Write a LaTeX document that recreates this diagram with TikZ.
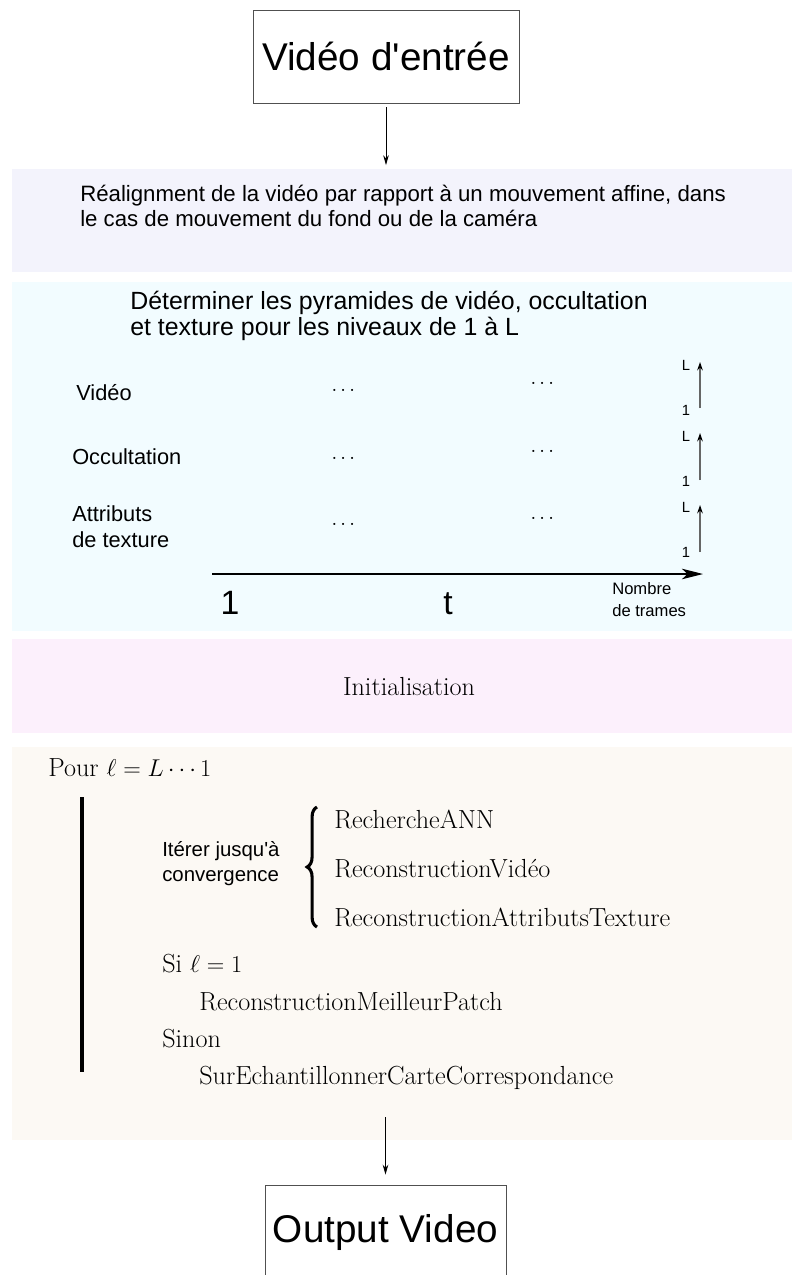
\documentclass[tikz,border=0pt]{standalone}
\usepackage{amsmath}
\usepackage{fontspec}
\usepackage{tikz}
\usetikzlibrary{arrows.meta}
\usetikzlibrary{decorations.pathreplacing}
\newfontfamily\arialfont{Liberation Sans}
\definecolor{boxgray}{RGB}{80,80,80}
\definecolor{bandA}{RGB}{243,243,252}
\definecolor{bandB}{RGB}{242,252,255}
\definecolor{bandC}{RGB}{252,240,252}
\definecolor{bandD}{RGB}{252,249,244}
\newcommand{\fs}[2]{\fontsize{#1}{#2}\selectfont}

\begin{document}
\begin{tikzpicture}[x=0.025cm,y=-0.025cm,>={Stealth[length=7pt,width=4pt]}]
      \tikzstyle{every node}=[inner sep=0pt]
      \tikzstyle{io}=[draw=boxgray,line width=0.6pt,minimum height=2.325cm,font=\arialfont\fs{27.5}{32}]
      \tikzstyle{band}=[anchor=north west,minimum width=19.5cm]
      \tikzstyle{sans}=[font=\arialfont,align=left]
      \tikzstyle{cmr}=[anchor=base west,font=\fs{18.6}{22}]
      \tikzstyle{lvl}=[font=\arialfont\fs{10.5}{12},anchor=base]
      \tikzstyle{dots}=[font=\fs{14}{16},anchor=base]
      \tikzstyle{pyr}=[draw=black!60,line width=0.9pt,-{Stealth[length=6pt,width=4pt,color=black]}]
      \useasboundingbox (0,0) rectangle (792,1275);
      % 
      \node [band,fill=bandA,minimum height=2.575cm] (align) at (12,169) {};
      \node [band,fill=bandB,minimum height=8.725cm] (pyramid) at (12,282) {};
      \node [band,fill=bandC,minimum height=2.35cm] (init) at (12,639) {};
      \node [band,fill=bandD,minimum height=9.825cm] (loop) at (12,747) {};
      % 
      \node [io,minimum width=6.65cm] (in) at (386,56.5) {Vidéo d'entrée};
      \node [io,minimum width=6.025cm] (out) at (385.5,1232) {Output Video};
      % 
      \node [sans,anchor=west,font=\arialfont\fs{15.8}{17.5}] (aligntext) at (80,206)
            {Réalignment de la vidéo par rapport à un mouvement affine, dans\\le cas de mouvement du fond ou de la caméra};
      % 
      \node [sans,anchor=west,font=\arialfont\fs{17.7}{18.5}] (pyrtitle) at (130,316)
            {Déterminer les pyramides de vidéo, occultation\\et texture pour les niveaux de 1 à L};
      \node [sans,anchor=base west,font=\arialfont\fs{15.5}{18.5}] (rowv) at (76,400) {Vidéo};
      \node [sans,anchor=base west,font=\arialfont\fs{15.5}{18.5}] (rowo) at (72,464) {Occultation};
      \node [sans,anchor=west,font=\arialfont\fs{15.5}{18.5}] (rowt) at (72,527) {Attributs\\de texture};
      \node [dots] (dv1) at (345,395) {$\cdots$};
      \node [dots] (dv2) at (544,388) {$\cdots$};
      \node [dots] (do1) at (345,463) {$\cdots$};
      \node [dots] (do2) at (544,456) {$\cdots$};
      \node [dots] (dt1) at (345,529) {$\cdots$};
      \node [dots] (dt2) at (544,523) {$\cdots$};
      \node [lvl] (Lv) at (686,370) {L};
      \node [lvl] (Iv) at (686,415) {1};
      \node [lvl] (Lo) at (686,441) {L};
      \node [lvl] (Io) at (686,486) {1};
      \node [lvl] (Lt) at (686,512) {L};
      \node [lvl] (It) at (686,557) {1};
      \coordinate (v0) at (700,408);  \coordinate (v1) at (700,362);
      \coordinate (o0) at (700,480);  \coordinate (o1) at (700,433);
      \coordinate (t0) at (700,552);  \coordinate (t1) at (700,505);
      \coordinate (ax0) at (212,574); \coordinate (ax1) at (703,574);
      \node [anchor=base,font=\arialfont\fs{24}{28}] (first) at (230,614) {1};
      \node [anchor=base,font=\arialfont\fs{24}{28}] (tt) at (448,614) {t};
      \node [sans,anchor=west,font=\arialfont\fs{11.8}{15.6}] (nbtr) at (612,600) {Nombre\\de trames};
      % 
      \node [cmr,anchor=base] (inittext) at (409,695) {Initialisation};
      % 
      \node [cmr] (pour) at (48,776) {Pour $\ell = L \cdots 1$};
      \coordinate (bartop) at (82,797); \coordinate (barbot) at (82,1072);
      \node [sans,anchor=west,font=\arialfont\fs{14.5}{17.8}] (iter) at (162,864) {Itérer jusqu'à\\convergence};
      \coordinate (bracebot) at (317,927); \coordinate (bracetop) at (317,807);
      \node [cmr] (ann) at (334,828) {RechercheANN};
      \node [cmr] (recv) at (334,877) {ReconstructionVidéo};
      \node [cmr] (recat) at (334,926) {ReconstructionAttributsTexture};
      \node [cmr] (si) at (162,972) {Si $\ell = 1$};
      \node [cmr] (recmp) at (199,1010) {ReconstructionMeilleurPatch};
      \node [cmr] (sinon) at (162,1047) {Sinon};
      \node [cmr] (surech) at (199,1084) {SurEchantillonnerCarteCorrespondance};
      \coordinate (loopend) at (385.5,1117);
      % 
      \draw [line width=2.8pt] (bartop) -- (barbot);
      \draw [line width=2.2pt,decorate,decoration={brace,amplitude=7pt}] (bracebot) -- (bracetop);
      \draw [line width=0.9pt,-{Stealth[length=15pt,width=7.5pt,inset=4pt]}] (ax0) -- (ax1);
      \draw [pyr] (v0) -- (v1);
      \draw [pyr] (o0) -- (o1);
      \draw [pyr] (t0) -- (t1);
      \path[->,line width=0.6pt]
      (in.south)  edge [shorten <=2.8pt,shorten >=2.8pt]  (in.south |- align.north)
      (loopend)   edge [shorten >=7.5pt]                  (out.north);
    \end{tikzpicture}
\end{document}
